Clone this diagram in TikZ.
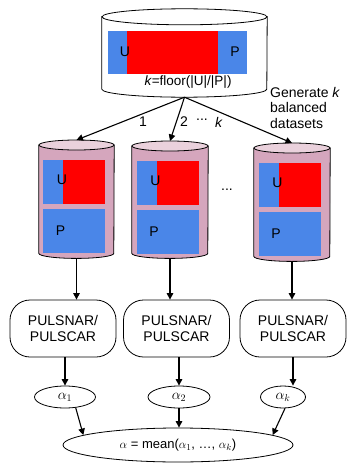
\documentclass[tikz,border=0pt]{standalone}
\usepackage{fontspec}
\setmainfont{Liberation Sans}
\usetikzlibrary{shapes,arrows.meta,positioning,calc}

\definecolor{setblue}{HTML}{4A86E8}
\definecolor{setred}{HTML}{FF0000}
\definecolor{dbbody}{HTML}{D5A6BD}
\definecolor{dbtop}{HTML}{EAD1DC}

\begin{document}
\begin{tikzpicture}[
    x=1pt, y=-1pt,
    store/.style={rectangle, inner sep=0pt},
    part/.style={rectangle, inner sep=0pt, anchor=north west},
    method/.style={rectangle, draw, rounded corners=20pt, line width=0.8pt,
                   minimum width=106pt, minimum height=57pt, align=center,
                   font=\fontsize{14}{16}\selectfont},
    est/.style={ellipse, draw, line width=0.8pt, minimum height=22pt, inner sep=0pt,
                font=\fontsize{14.5}{16}\selectfont},
    lbl/.style={font=\fontsize{14}{16}\selectfont, inner sep=0pt},
    arrow/.style={-{Triangle[length=6.5pt,width=6.5pt]}, line width=1.1pt}
]
\useasboundingbox (0,0) rectangle (346,463);

%% ── Cylinder outlines (node, ellipse radii, body and lid colours) ─
\node[store, minimum width=165pt, minimum height=88pt] (all) at (184.5,53) {};
\node[store, minimum width=75pt, minimum height=118pt, anchor=north] (ds1) at (76.5,140) {};
\node[store, minimum width=76pt, minimum height=117pt, anchor=north] (ds2) at (170,141) {};
\node[store, minimum width=76pt, minimum height=118pt, anchor=north] (ds3) at (292,143) {};
\foreach \n/\rx/\ry/\body/\lid in {all/82.5/8/white/white, ds1/37.5/5/dbbody/dbtop,
                                   ds2/38/5/dbbody/dbtop, ds3/38/5/dbbody/dbtop}{
  \draw[line width=0.8pt, fill=\body] ([yshift=-\ry pt]\n.north west) -- ([yshift=\ry pt]\n.south west)
      arc[start angle=180, end angle=360, x radius=\rx pt, y radius=\ry pt]
      -- ([yshift=-\ry pt]\n.north east) -- cycle;
  \draw[line width=0.8pt, fill=\lid] ([yshift=-\ry pt]\n.north) ellipse[x radius=\rx pt, y radius=\ry pt];
}

%% ── Full data set ────────────────────────────────────────────────
\node[part, fill=setblue, minimum width=139pt, minimum height=43pt] (allu) at (108,31) {};
\node[part, fill=setred, minimum width=91pt, minimum height=43pt] (allr) at (127,31) {};
\node[lbl] (ulab) at (125,52) {U};
\node[lbl] (plab) at (235,52) {P};
\node[lbl, font=\fontsize{13.5}{15}\selectfont] (kdef) at (188,82) {\textit{k}=floor(|U|/|P|)};

%% ── Balanced subsets ─────────────────────────────────────────────
\foreach \i/\cx/\ty in {1/76.5/140, 2/170/141, 3/292/143}{
  \node[part, fill=setblue, minimum width=62pt, minimum height=44pt] (u\i) at (\cx-33.5,\ty+20) {};
  \node[part, fill=setred, minimum width=42pt, minimum height=44pt] (r\i) at (\cx-13.5,\ty+20) {};
  \node[part, fill=setblue, minimum width=62pt, minimum height=44pt] (p\i) at (\cx-33.5,\ty+69) {};
  \node[lbl] (ul\i) at (\cx-14.5,\ty+40) {U};
  \node[lbl] (pl\i) at (\cx-16,\ty+91) {P};
}
\node[lbl] (gap) at (227,190) {...};

%% ── Estimators ───────────────────────────────────────────────────
\node[method] (pb1) at (63,328.5) {PULSNAR/\\PULSCAR};
\node[method] (pb2) at (176.5,328.5) {PULSNAR/\\PULSCAR};
\node[method] (pb3) at (293,328.5) {PULSNAR/\\PULSCAR};

\node[est, minimum width=61pt] (a1) at (65,397) {$\alpha_1$};
\node[est, minimum width=62pt] (a2) at (179,397) {$\alpha_2$};
\node[est, minimum width=45pt] (ak) at (283,397) {$\alpha_k$};
\node[est, minimum width=230pt, minimum height=34pt, font=\fontsize{13}{15}\selectfont] (mean) at (178,445)
    {$\alpha$ = mean($\alpha_1$, \dots, $\alpha_k$)};

%% ── Labels ───────────────────────────────────────────────────────
\node[lbl] (n1) at (143,122) {1};
\node[lbl] (n2) at (184,122) {2};
\node[lbl] (ndots) at (202,120) {...};
\node[lbl] (nk) at (219,122) {\textit{k}};
\node[lbl, align=left, anchor=west, font=\fontsize{14}{15.5}\selectfont] (gen) at (270,107.5)
    {Generate \textit{k}\\balanced\\datasets};

%% ── Arrows ───────────────────────────────────────────────────────
\draw[arrow] (all.south) -- (ds1.north);
\draw[arrow] (all.south) -- (ds2.north);
\draw[arrow] (all.south) -- (ds3.north);
\draw[arrow] (ds1.south) -- (ds1.south |- pb1.north);
\draw[arrow] (ds2.south) -- (ds2.south |- pb2.north);
\draw[arrow] (ds3.south) -- (ds3.south |- pb3.north);
\draw[arrow] (pb1.south -| a1.north) -- (a1.north);
\draw[arrow] (pb2.south -| a2.north) -- (a2.north);
\draw[arrow] (pb3.south) -- (pb3.south |- ak.north);
\draw[arrow] (a1.-45) -- (mean.174);
\draw[arrow] (a2.south) -- (a2.south |- mean.north);
\draw[arrow] (ak.-80) -- (mean.6);

\end{tikzpicture}
\end{document}
